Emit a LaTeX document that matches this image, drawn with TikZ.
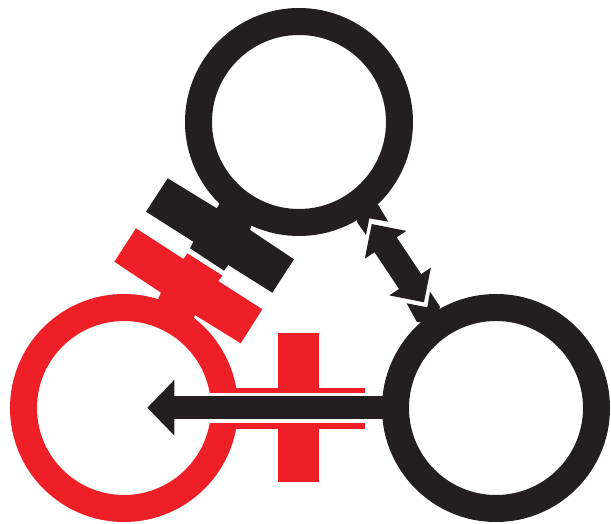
\documentclass[tikz,border=0pt]{standalone}
\usetikzlibrary{arrows.meta}
\definecolor{inkblack}{HTML}{231F20}
\definecolor{inkred}{HTML}{EE1F26}
\tikzset{
  ring/.style={circle,draw=#1,line width=27pt,minimum size=201pt,inner sep=0pt},
  solidshape/.style={fill=#1,draw=none},
  bigarrow/.style={draw=inkblack,line width=23pt,-{Triangle[length=27pt,width=54pt,fill=inkblack]}},
  dblarrow/.style={draw=inkblack,line width=26.7pt,{Triangle[length=25pt,width=48.5pt,fill=inkblack]}-{Triangle[length=25pt,width=48.5pt,fill=inkblack]}}
}
\begin{document}
\begin{tikzpicture}[x=1pt,y=-1pt]
\useasboundingbox (0,0) rectangle (611,524);
% red inhibitor bar on the left ring
\fill[solidshape=inkred] (136,228.3) -- (114.3,261.7) -- (161,292.7) -- (158.3,298.3) -- (165,320) -- (190,325) -- (195,315) -- (240.7,343.3) -- (262.3,309.3) -- (218.3,281) -- (222.5,275.7) -- (187.3,253.3) -- (183.5,259) -- cycle;
% red cross
\fill[solidshape=inkred] (278.3,333.3) rectangle (319,482);
\fill[solidshape=inkred] (225,388.3) rectangle (365,429);
\node[ring=inkred] (left) at (124,408) {};
\fill[white] (208,392.7) rectangle (382,423.3);
% black inhibitor bar on the top ring
\fill[solidshape=inkblack] (167.7,178.3) -- (146,211.7) -- (193.3,241.7) -- (190,248.3) -- (224,270.7) -- (228.3,265) -- (272.3,292.7) -- (294,259.3) -- (250,230) -- (255,215) -- (225,195) -- (216.7,208.3) -- cycle;
\node[ring=inkblack] (top) at (299,122) {};
\node[ring=inkblack] (right) at (496,408) {};
% spikes of the double arrow
\fill[solidshape=inkblack] (356.7,221.7) -- (366,235) -- (369.3,218.3) -- (388.3,221.7) -- (378.3,205) -- (365,200) -- cycle;
\fill[solidshape=inkblack] (416.7,321.7) -- (406.7,303.3) -- (427.3,307.3) -- (430,291.7) -- (440,306.7) -- (435,325) -- cycle;
% connectors
\coordinate (lefttip) at (147.3,407.7);
\coordinate (upper) at (371.7,224);
\coordinate (lower) at (424,302.3);
\draw[bigarrow] (right.center |- lefttip) ++(-100,0) -- (lefttip);
\draw[dblarrow] (upper) -- (lower);
\end{tikzpicture}
\end{document}
